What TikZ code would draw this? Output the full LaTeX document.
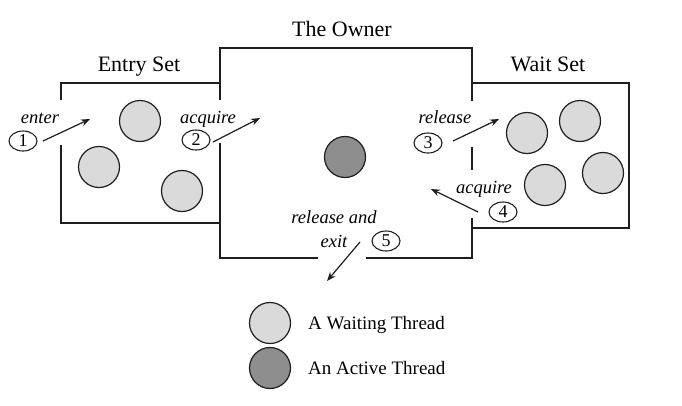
\documentclass[tikz,border=0pt]{standalone}
\usepackage{fontspec}
\setmainfont{Liberation Serif}
\usetikzlibrary{shapes.geometric,arrows.meta}
\definecolor{waitfill}{HTML}{DADADA}
\definecolor{activefill}{HTML}{8E8E8E}
\definecolor{linecol}{HTML}{1E1E1E}
\begin{document}
\begin{tikzpicture}[x=1pt,y=-1pt,
  boxline/.style={draw=linecol,line width=1.7pt},
  waiting/.style={circle,draw=linecol,line width=1.2pt,fill=waitfill,minimum size=41pt,inner sep=0pt},
  active/.style={circle,draw=linecol,line width=1.2pt,fill=activefill,minimum size=41pt,inner sep=0pt},
  num/.style={ellipse,draw=linecol,line width=1.1pt,minimum width=28pt,minimum height=20pt,inner sep=0pt,font=\fontsize{18}{18}\selectfont},
  lbl/.style={font=\fontsize{18.5}{22}\selectfont\itshape,anchor=base,inner sep=0pt},
  title/.style={font=\fontsize{22}{24}\selectfont,anchor=base,inner sep=0pt},
  legend/.style={font=\fontsize{19}{22}\selectfont,anchor=base west,inner sep=0pt},
  arr/.style={-{Stealth[length=9pt,width=7pt]},line width=1.2pt,draw=linecol}]
\useasboundingbox (0,0) rectangle (682,405);

% Entry Set box
\draw[boxline] (61,100) -- (61,83) -- (220,83);
\draw[boxline] (61,145) -- (61,223) -- (220,223);
% Owner box
\draw[boxline] (220,100) -- (220,48) -- (472,48) -- (472,101);
\draw[boxline] (220,143) -- (220,258) -- (318,258);
\draw[boxline] (366,258) -- (472,258) -- (472,218);
\draw[boxline] (472,147) -- (472,170);
% Wait Set box
\draw[boxline] (472,83) -- (629,83) -- (629,228) -- (472,228);

% titles
\node[title] (towner) at (342,36) {The Owner};
\node[title] (tentry) at (139,71) {Entry Set};
\node[title] (twait) at (548,71) {Wait Set};

% threads
\node[waiting] (e1) at (140,121) {};
\node[waiting] (e2) at (99,167) {};
\node[waiting] (e3) at (182,191) {};
\node[waiting] (w1) at (527,133) {};
\node[waiting] (w2) at (580,121) {};
\node[waiting] (w3) at (545,185) {};
\node[waiting] (w4) at (603,173) {};
\node[active] (own) at (345,157) {};

% numbered steps
\node[num] (n1) at (23,141) {1};
\node[num] (n2) at (196,140) {2};
\node[num] (n3) at (428,143) {3};
\node[num] (n4) at (503,212) {4};
\node[num] (n5) at (386,241) {5};

% labels
\node[lbl] (l1) at (40,123) {enter};
\node[lbl] (l2) at (208,123) {acquire};
\node[lbl] (l3) at (445,123) {release};
\node[lbl] (l4) at (484,193) {acquire};
\node[lbl] (l5a) at (334,223) {release and};
\node[lbl] (l5b) at (334,247) {exit};

% arrows
\coordinate (a1s) at (43,141); \coordinate (a1e) at (90,119);
\coordinate (a2s) at (213,142); \coordinate (a2e) at (260,118);
\coordinate (a3s) at (453,141); \coordinate (a3e) at (499,119);
\coordinate (a4s) at (478,212); \coordinate (a4e) at (431,189);
\coordinate (a5s) at (360,242); \coordinate (a5e) at (327,281);
\draw[arr] (a1s) -- (a1e);
\draw[arr] (a2s) -- (a2e);
\draw[arr] (a3s) -- (a3e);
\draw[arr] (a4s) -- (a4e);
\draw[arr] (a5s) -- (a5e);

% legend
\node[waiting] (lw) at (270,323) {};
\node[active] (la) at (270,368) {};
\node[legend] (lwt) at (308,329) {A Waiting Thread};
\node[legend] (lat) at (308,374) {An Active Thread};
\end{tikzpicture}
\end{document}
